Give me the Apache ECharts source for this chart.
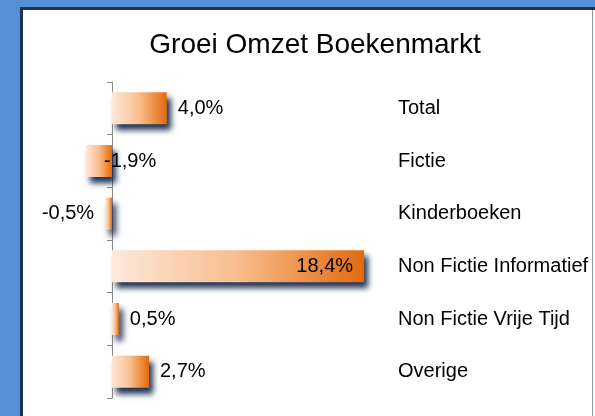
<!DOCTYPE html>
<html>
<head>
<meta charset="utf-8">
<script src="https://cdn.jsdelivr.net/npm/echarts@6/dist/echarts.min.js"></script>
<style>
  html, body { margin: 0; padding: 0; background: #5590d4; }
  #chart { width: 595px; height: 416px; }
</style>
</head>
<body>
<div id="chart"></div>
<script>
// data
const categories = ['Total', 'Fictie', 'Kinderboeken', 'Non Fictie Informatief', 'Non Fictie Vrije Tijd', 'Overige'];
const growth = [4.0, -1.9, -0.5, 18.4, 0.5, 2.7];
// where each value label sits (matches the original slide)
const labelPlaces = ['right', 'fictie', 'left', 'insideRight', 'right', 'right'];

const myChart = echarts.init(document.getElementById('chart'), null, { renderer: 'canvas' });

const barFill = new echarts.graphic.LinearGradient(0, 0, 1, 0, [
    { offset: 0, color: '#fde9da' },
    { offset: 0.5, color: '#f8bd8d' },
    { offset: 1, color: '#e36a0c' }
]);

function labelFor(place) {
    if (place === 'fictie') {
        return { show: true, position: 'insideLeft', offset: [13, 0] };
    }
    if (place === 'insideRight') {
        return { show: true, position: 'insideRight', distance: 11 };
    }
    return { show: true, position: place, distance: 11 };
}

const seriesData = growth.map(function (v, i) {
    return { value: v, label: labelFor(labelPlaces[i]) };
});

const option = {
    backgroundColor: '#5590d4',
    animation: false,
    textStyle: { fontFamily: 'Liberation Sans, Arial, sans-serif' },
    graphic: [{
        type: 'rect',
        z: -10,
        shape: { x: 21.5, y: 8.5, width: 572, height: 420 },
        style: { fill: '#ffffff', stroke: '#1b3355', lineWidth: 3 }
    }, {
        type: 'rect',
        z: -9,
        shape: { x: 592.5, y: 10, width: 3, height: 410 },
        style: { fill: '#ffffff' }
    }],
    title: {
        text: 'Groei Omzet Boekenmarkt',
        left: 310,
        top: 26,
        textAlign: 'center',
        textStyle: { fontSize: 28, fontWeight: 'normal', color: '#000', fontFamily: 'Liberation Sans, Arial, sans-serif' }
    },
    grid: { left: 84.6, top: 82, width: 301.4, height: 316 },
    xAxis: {
        type: 'value',
        min: -2,
        max: 20,
        show: false
    },
    yAxis: [{
        type: 'category',
        data: categories,
        inverse: true,
        axisLine: { onZero: true, lineStyle: { color: '#8a8a8a', width: 1 } },
        axisTick: { show: true, length: 5, lineStyle: { color: '#8a8a8a' } },
        axisLabel: { show: false },
        splitLine: { show: false }
    }, {
        type: 'category',
        data: categories,
        inverse: true,
        position: 'right',
        axisLine: { show: false },
        axisTick: { show: false },
        axisLabel: { show: true, margin: 12, align: 'left', fontSize: 20, color: '#000' },
        splitLine: { show: false }
    }],
    series: [{
        type: 'bar',
        yAxisIndex: 0,
        data: seriesData,
        barWidth: 32,
        itemStyle: {
            color: barFill,
            shadowColor: 'rgba(20, 40, 75, 0.95)',
            shadowBlur: 6,
            shadowOffsetX: 4,
            shadowOffsetY: 6
        },
        label: {
            fontSize: 20,
            color: '#000',
            formatter: function (p) {
                return p.value.toFixed(1).replace('.', ',') + '%';
            }
        }
    }]
};

myChart.setOption(option);
</script>
</body>
</html>
